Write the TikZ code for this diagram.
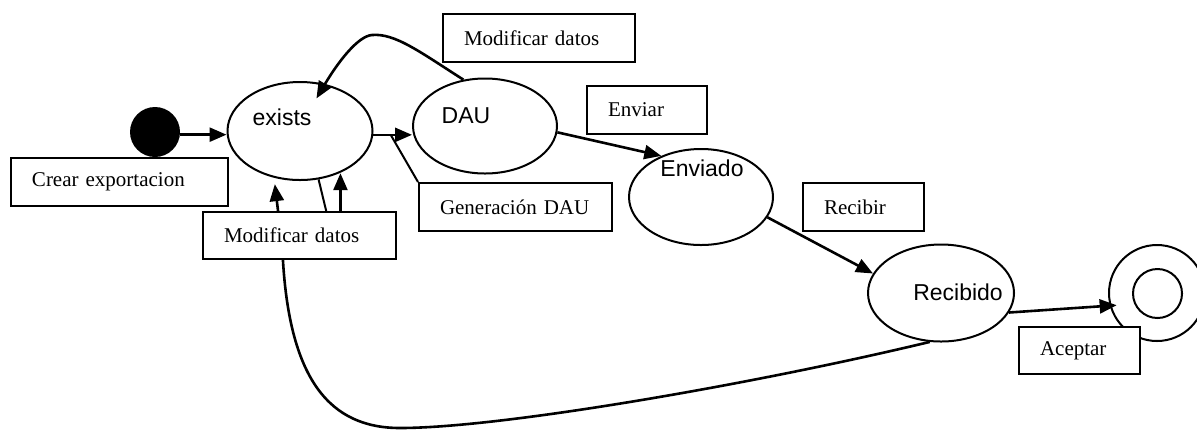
\documentclass[tikz,border=0pt]{standalone}
\usepackage{fontspec}
\setmainfont{Liberation Serif}
\newfontfamily\statefont{Liberation Sans}
\usetikzlibrary{shapes.geometric,arrows.meta,calc}

\tikzset{
  state/.style={draw, ellipse, inner sep=0pt, line width=1pt},
  statelabel/.style={font=\statefont\fontsize{11.5}{13}\selectfont},
  evbox/.style={draw, fill=white, rectangle, line width=1pt, inner xsep=10.5pt,
    inner ysep=0pt, text width=#1, align=left,
    font=\fontsize{10.5}{12}\selectfont},
  conn/.style={line width=1.3pt},
  arr/.style={conn, -{Triangle[length=8.5pt,width=7pt]}},
}

\begin{document}
\begin{tikzpicture}[x=0.5pt, y=-0.5pt]
  \useasboundingbox (0,0) rectangle (1197,430);

  % states
  \node[circle, fill=black, minimum size=25pt, inner sep=0pt] (init) at (155,132) {};
  \node[state, minimum width=72.5pt, minimum height=49pt,
        label={[statelabel, xshift=-9pt, yshift=7pt]center:exists}] (ex) at (300,131) {};
  \node[state, minimum width=72pt, minimum height=47.5pt,
        label={[statelabel, xshift=-9.5pt, yshift=5pt]center:DAU}] (dau) at (485,126) {};
  \node[state, minimum width=72pt, minimum height=48pt,
        label={[statelabel, xshift=0.5pt, yshift=14.5pt]center:Enviado}] (env) at (701,197) {};
  \node[state, minimum width=73pt, minimum height=48.5pt,
        label={[statelabel, xshift=8.5pt, yshift=0.5pt]center:Recibido}] (rec) at (941,293) {};
  \node[circle, draw, line width=1pt, minimum size=48pt, inner sep=0pt] (fin) at (1157,293) {};
  \node[circle, draw, line width=1pt, minimum size=24.5pt, inner sep=0pt] (fininner) at (1157.5,293.5) {};

  % event labels
  \node[evbox=87.5pt, minimum height=24pt] (crear) at (119.5,182) {Crear exportacion};
  \node[evbox=75pt, minimum height=24pt] (md1) at (539,38) {Modificar datos};
  \node[evbox=75.5pt, minimum height=23.5pt] (md2) at (299.5,235.5) {Modificar datos};
  \node[evbox=75.5pt, minimum height=24pt] (gen) at (515.5,207) {Generación DAU};
  \node[evbox=39pt, minimum height=24pt] (envb) at (647,110) {Enviar};
  \node[evbox=39.5pt, minimum height=24pt] (rcb) at (863.5,207) {Recibir};
  \node[evbox=39.5pt, minimum height=23.5pt] (acp) at (1079.5,350.5) {Aceptar};

  % transitions
  \draw[arr] (init.-6) -- (init.-6 -| ex.west);
  \draw[arr] (ex.-3) -- coordinate[pos=0.45] (t1) (ex.-3 -| dau.west);
  \draw[line width=1pt] (t1) -- (gen.north west);
  \draw[arr] (dau.-5) -- (env.134);
  \draw[arr] (env.-17) -- (rec.164);
  \draw[arr, shorten >=-3.5pt] (rec.-16) -- (fin.-165);

  % loop back from DAU to exists
  \draw[arr, shorten >=-8.4pt] (dau.115) .. controls (420,52) and (395,33) .. (372,35)
        .. controls (358,36) and (338,62) .. (ex.62);

  % connections of the lower label to exists
  \coordinate (a1) at ($(md2.north west)!0.39!(md2.north east)$);
  \coordinate (l1) at ($(md2.north west)!0.637!(md2.north east)$);
  \coordinate (a2) at ($(md2.north west)!0.71!(md2.north east)$);
  \draw[arr, shorten >=3.2pt] (a1) -- (ex.-119);
  \draw[line width=1pt] (ex.-69) -- (l1);
  \draw[arr] (a2) -- (a2 |- ex.-47);

  % long curve from Recibido back to the lower label
  \coordinate (b1) at ($(md2.south west)!0.415!(md2.south east)$);
  \draw[conn] (b1) .. controls (290,380) and (330,428) .. (400,428)
        .. controls (500,428) and (750,385) .. (rec.-103);
\end{tikzpicture}
\end{document}
